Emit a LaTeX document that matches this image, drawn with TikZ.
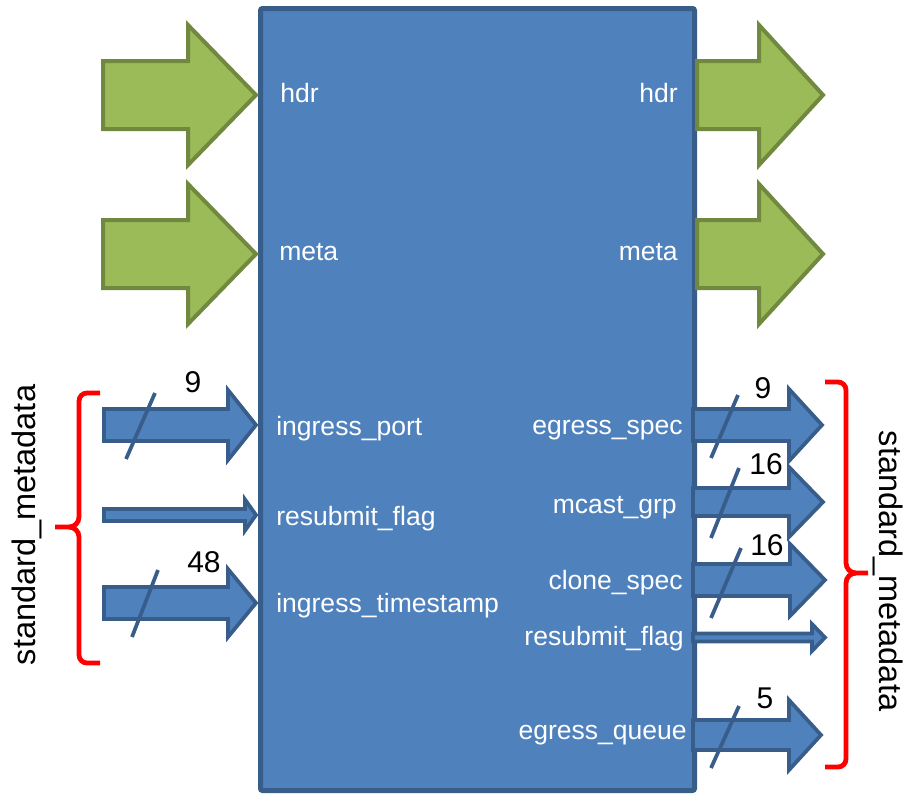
\documentclass[tikz,border=0pt]{standalone}
\usepackage{fontspec}
\setmainfont{Liberation Sans}
\definecolor{boxfill}{HTML}{4F81BD}
\definecolor{boxline}{HTML}{385D8A}
\definecolor{grfill}{HTML}{9BBB59}
\definecolor{grline}{HTML}{71893F}
\definecolor{bred}{HTML}{FF0000}
\newcommand{\fatarr}[7]{%
  \draw[#1] (#2,#5-#6) -- (#3,#5-#6) -- (#3,#5-#7) -- (#4,#5) -- (#3,#5+#7) -- (#3,#5+#6) -- (#2,#5+#6) -- cycle;}
\tikzset{
  greenarrow/.style={fill=grfill, draw=grline, line width=3pt, line join=miter},
  bluearrow/.style={fill=boxfill, draw=boxline, line width=2.8pt, line join=miter},
  slash/.style={draw=boxline, line width=2.8pt},
  wlabel/.style={text=white, inner sep=0pt, font=\fontsize{19.9}{23}\selectfont},
  numlabel/.style={text=black, fill=white, inner sep=1pt, font=\fontsize{22.5}{26}\selectfont},
  sidelabel/.style={text=black, inner sep=0pt, font=\fontsize{24.4}{28}\selectfont},
  brace/.style={draw=bred, line width=3.6pt, line cap=butt}
}
\begin{document}
\begin{tikzpicture}[x={(0.75pt,0)}, y={(0,-0.75pt)}]
\useasboundingbox (0,0) rectangle (908,794);
% main block
\draw[fill=boxfill, draw=boxline, line width=3.75pt, rounded corners=1.5pt] (260.5,8.5) rectangle (694.5,790.5);
% green arrows
\fatarr{greenarrow}{103}{188}{256}{95}{34}{70}
\fatarr{greenarrow}{103}{188}{256}{254}{34}{70}
\fatarr{greenarrow}{697}{759}{823}{95}{34}{70}
\fatarr{greenarrow}{697}{759}{823}{254}{34}{70}
% left blue arrows
\fatarr{bluearrow}{104}{228}{256}{425}{16}{35}
\fatarr{bluearrow}{104}{245}{256}{515}{6}{15.5}
\fatarr{bluearrow}{104}{228}{256}{603}{16}{34}
% right blue arrows
\fatarr{bluearrow}{693}{789}{822}{425}{16}{36}
\fatarr{bluearrow}{693}{789}{823}{502}{14}{35}
\fatarr{bluearrow}{693}{790}{825}{580}{16}{36}
\fatarr{bluearrow}{693}{812}{825}{637.5}{4}{13.5}
\fatarr{bluearrow}{693}{789}{821}{735}{15}{35}
% slashes
\draw[slash] (126,459) -- (155,393);
\draw[slash] (132,637) -- (158,570);
\draw[slash] (711,458) -- (738,395);
\draw[slash] (711,538) -- (739,468);
\draw[slash] (711,618) -- (741,548);
\draw[slash] (711,768) -- (739,706);
% width labels
\node[numlabel, anchor=base] (n1) at (193,392) {9};
\node[numlabel, anchor=base] (n2) at (204,572) {48};
\node[numlabel, anchor=base] (n3) at (763,398) {9};
\node[numlabel, anchor=base] (n4) at (766,474) {16};
\node[numlabel, anchor=base] (n5) at (767,555) {16};
\node[numlabel, anchor=base] (n6) at (765,708) {5};
% labels inside the block
\node[wlabel, anchor=base west] (lhdr) at (280,102) {hdr};
\node[wlabel, anchor=base west] (lmeta) at (279,260) {meta};
\node[wlabel, anchor=base east] (rhdr) at (678,102) {hdr};
\node[wlabel, anchor=base east] (rmeta) at (678,260) {meta};
\node[wlabel, anchor=base west] (ip) at (276,435) {ingress\_port};
\node[wlabel, anchor=base west] (rf) at (276,525) {resubmit\_flag};
\node[wlabel, anchor=base west] (its) at (276,612) {ingress\_timestamp};
\node[wlabel, anchor=base east] (es) at (683,434) {egress\_spec};
\node[wlabel, anchor=base east] (mg) at (677,513) {mcast\_grp};
\node[wlabel, anchor=base east] (cs) at (683,589) {clone\_spec};
\node[wlabel, anchor=base east] (rf2) at (684,645) {resubmit\_flag};
\node[wlabel, anchor=base east] (eq) at (687,739) {egress\_queue};
% braces
\draw[brace] (100,393) -- (87,393) to[out=180,in=90] (79,401) -- (79,517)
  to[out=-90,in=0] (69,527) -- (55,527);
\draw[brace] (69,527) to[out=0,in=90] (79,537) -- (79,655)
  to[out=-90,in=180] (87,663) -- (100,663);
\draw[brace] (825,382) -- (838,382) to[out=0,in=90] (846,390) -- (846,563)
  to[out=-90,in=180] (856,573) -- (868,573);
\draw[brace] (856,573) to[out=180,in=90] (846,583) -- (846,759)
  to[out=-90,in=0] (838,767) -- (825,767);
\node[sidelabel, rotate=90] (lsm) at (26.5,525) {standard\_metadata};
\node[sidelabel, rotate=-90] (rsm) at (888.5,571) {standard\_metadata};
\end{tikzpicture}
\end{document}
